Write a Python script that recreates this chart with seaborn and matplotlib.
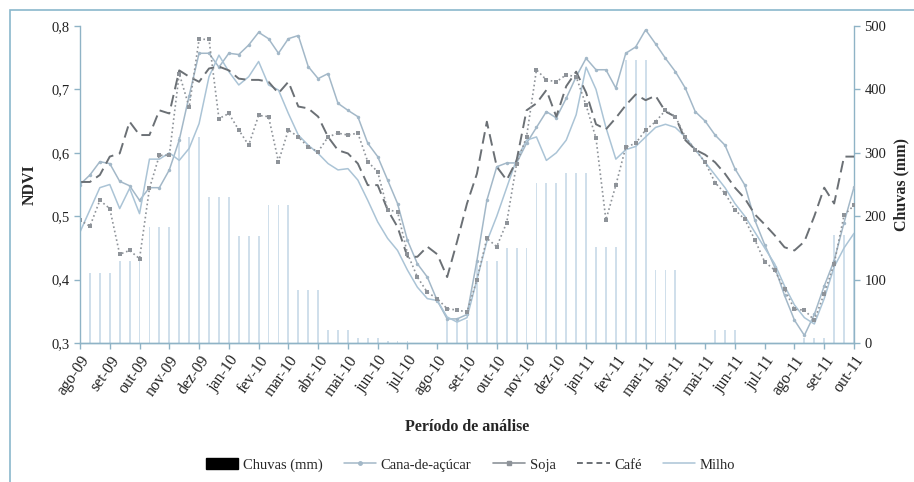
import numpy as np
import pandas as pd
import seaborn as sns
import matplotlib.pyplot as plt
from matplotlib.patches import Rectangle, Patch
from matplotlib.lines import Line2D

meses = ['ago-09', 'set-09', 'out-09', 'nov-09', 'dez-09', 'jan-10', 'fev-10', 'mar-10',
         'abr-10', 'mai-10', 'jun-10', 'jul-10', 'ago-10', 'set-10', 'out-10', 'nov-10',
         'dez-10', 'jan-11', 'fev-11', 'mar-11', 'abr-11', 'mai-11', 'jun-11', 'jul-11',
         'ago-11', 'set-11', 'out-11']

# chuva mensal (mm), repetida nos 3 decendios de cada mes
chuva_inicial = [46]
chuva_mensal = [110, 130, 183, 325, 230, 168, 217, 83, 21, 8, 3, 0, 36,
                130, 150, 252, 268, 151, 447, 115, 0, 20, 0, 0, 8, 170]

# NDVI por decendio (79 pontos)
cana = [0.55, 0.565, 0.586, 0.583, 0.555, 0.548, 0.525, 0.545, 0.545, 0.573,
        0.62, 0.69, 0.757, 0.757, 0.735, 0.757, 0.755, 0.77, 0.79, 0.78,
        0.757, 0.78, 0.785, 0.736, 0.717, 0.725, 0.678, 0.667, 0.657, 0.615,
        0.594, 0.557, 0.52, 0.462, 0.425, 0.404, 0.367, 0.338, 0.338, 0.345,
        0.43, 0.525, 0.578, 0.584, 0.584, 0.615, 0.64, 0.665, 0.655, 0.686,
        0.72, 0.749, 0.731, 0.731, 0.702, 0.757, 0.767, 0.794, 0.772, 0.749,
        0.728, 0.702, 0.665, 0.65, 0.628, 0.612, 0.575, 0.549, 0.494, 0.455,
        0.42, 0.375, 0.336, 0.312, 0.345, 0.39, 0.43, 0.49, 0.546]
soja = [0.494, 0.484, 0.525, 0.512, 0.44, 0.446, 0.433, 0.544, 0.596, 0.596,
        0.725, 0.672, 0.779, 0.779, 0.654, 0.662, 0.636, 0.612, 0.659, 0.657,
        0.586, 0.636, 0.625, 0.609, 0.602, 0.625, 0.631, 0.628, 0.631, 0.586,
        0.57, 0.51, 0.507, 0.441, 0.404, 0.38, 0.37, 0.354, 0.352, 0.349,
        0.40, 0.465, 0.452, 0.49, 0.583, 0.625, 0.731, 0.715, 0.712, 0.723,
        0.72, 0.675, 0.623, 0.494, 0.549, 0.609, 0.615, 0.636, 0.649, 0.667,
        0.657, 0.625, 0.605, 0.585, 0.553, 0.536, 0.51, 0.495, 0.463, 0.428,
        0.415, 0.385, 0.353, 0.352, 0.336, 0.378, 0.425, 0.502, 0.517]
cafe = [0.554, 0.554, 0.565, 0.594, 0.599, 0.649, 0.628, 0.628, 0.667, 0.662,
        0.73, 0.72, 0.712, 0.733, 0.736, 0.73, 0.717, 0.715, 0.715, 0.712,
        0.694, 0.712, 0.673, 0.67, 0.657, 0.625, 0.604, 0.599, 0.583, 0.549,
        0.549, 0.51, 0.483, 0.436, 0.436, 0.452, 0.44, 0.404, 0.46, 0.52,
        0.567, 0.649, 0.578, 0.557, 0.588, 0.667, 0.678, 0.699, 0.657, 0.705,
        0.728, 0.695, 0.645, 0.637, 0.655, 0.675, 0.692, 0.683, 0.69, 0.665,
        0.657, 0.62, 0.605, 0.597, 0.585, 0.567, 0.545, 0.528, 0.503, 0.487,
        0.47, 0.451, 0.446, 0.46, 0.5, 0.545, 0.52, 0.594, 0.594]
milho = [0.475, 0.51, 0.545, 0.55, 0.512, 0.544, 0.504, 0.59, 0.59, 0.60,
         0.588, 0.607, 0.646, 0.72, 0.754, 0.728, 0.707, 0.72, 0.744, 0.707,
         0.699, 0.662, 0.628, 0.612, 0.599, 0.583, 0.573, 0.575, 0.557, 0.525,
         0.491, 0.465, 0.446, 0.415, 0.388, 0.37, 0.367, 0.341, 0.333, 0.34,
         0.40, 0.46, 0.50, 0.545, 0.59, 0.62, 0.625, 0.588, 0.60, 0.62,
         0.66, 0.735, 0.70, 0.64, 0.59, 0.605, 0.61, 0.625, 0.64, 0.645,
         0.64, 0.625, 0.605, 0.585, 0.565, 0.545, 0.52, 0.50, 0.475, 0.45,
         0.425, 0.39, 0.36, 0.34, 0.33, 0.37, 0.42, 0.45, 0.473]

t = np.arange(len(cana)) / 3.0
chuva = np.array(chuva_inicial + list(np.repeat(chuva_mensal, 3)))

df = pd.DataFrame({'t': t, 'Cana-de-açúcar': cana, 'Soja': soja,
                   'Café': cafe, 'Milho': milho, 'Chuvas (mm)': chuva})

sns.set_style('white')
plt.rcParams['font.family'] = ['Liberation Serif', 'DejaVu Serif']

fig = plt.figure(figsize=(9.14, 4.82), dpi=100)
ax1 = fig.add_axes([80 / 914, 1 - 343 / 482, 774 / 914, 317 / 482])
ax2 = ax1.twinx()
ax1.set_zorder(ax2.get_zorder() + 1)
ax1.patch.set_visible(False)

# chuvas como barras finas
ax2.bar(df['t'], df['Chuvas (mm)'], width=0.06, color='#d0dfeb', linewidth=0)

cor_cana = '#a3b8c8'
cor_soja = '#8e9399'
cor_cafe = '#6b7075'
cor_milho = '#abc4d6'
sns.lineplot(data=df, x='t', y='Cana-de-açúcar', ax=ax1, color=cor_cana, lw=1.1,
             marker='o', markersize=2.5, markeredgewidth=0)
sns.lineplot(data=df, x='t', y='Milho', ax=ax1, color=cor_milho, lw=1.1)
sns.lineplot(data=df, x='t', y='Café', ax=ax1, color=cor_cafe, lw=1.4, dashes=(6, 3))
sns.lineplot(data=df, x='t', y='Soja', ax=ax1, color=cor_soja, lw=1.2, ls=':',
             marker='s', markersize=3, markeredgewidth=0)

ax1.set_xlim(0, 26)
ax1.set_ylim(0.3, 0.8)
ax2.set_ylim(0, 500)
ax1.set_yticks([0.3, 0.4, 0.5, 0.6, 0.7, 0.8])
ax1.set_yticklabels(['0,3', '0,4', '0,5', '0,6', '0,7', '0,8'])
ax2.set_yticks([0, 100, 200, 300, 400, 500])
ax1.set_xticks(range(len(meses)))
ax1.set_xticklabels(meses, rotation=55, ha='right', rotation_mode='anchor')

eixo = '#8fb3c6'
for ax in (ax1, ax2):
    for s in ax.spines.values():
        s.set_color(eixo)
        s.set_linewidth(1)
    ax.spines['top'].set_visible(False)
    ax.tick_params(colors=eixo, labelcolor='#222222', labelsize=10.5,
                   length=4, width=1, direction='out')
ax1.spines['right'].set_visible(False)
ax2.spines['left'].set_visible(False)
ax1.tick_params(axis='y', left=True)
ax1.tick_params(axis='x', bottom=True, pad=3, labelsize=11.5)
ax2.tick_params(axis='y', right=True)

ax1.set_xlabel('Período de análise', fontsize=11.5, fontweight='bold', labelpad=14)
ax1.set_ylabel('NDVI', fontsize=11.5, fontweight='bold', labelpad=10)
ax2.set_ylabel('Chuvas (mm)', fontsize=11.5, fontweight='bold', labelpad=5)

handles = [Patch(color='black'),
           Line2D([], [], color=cor_cana, lw=1.1, marker='o', markersize=2.5),
           Line2D([], [], color=cor_soja, lw=1.2, marker='s', markersize=3),
           Line2D([], [], color=cor_cafe, lw=1.4, dashes=(3, 2)),
           Line2D([], [], color=cor_milho, lw=1.1)]
fig.legend(handles, ['Chuvas (mm)', 'Cana-de-açúcar', 'Soja', 'Café', 'Milho'],
           loc='center', bbox_to_anchor=(0.515, 1 - 465 / 482), ncol=5, frameon=False,
           fontsize=10.5, handlelength=2.2, handletextpad=0.3, columnspacing=1.5)

# moldura da area do grafico
fig.patches.append(Rectangle((10 / 914, -0.1), 1.2, 1 - 10 / 482 + 0.1,
                             transform=fig.transFigure, fill=False,
                             edgecolor='#8ab8cc', lw=1.2))

fig.savefig('out.png', dpi=100)
